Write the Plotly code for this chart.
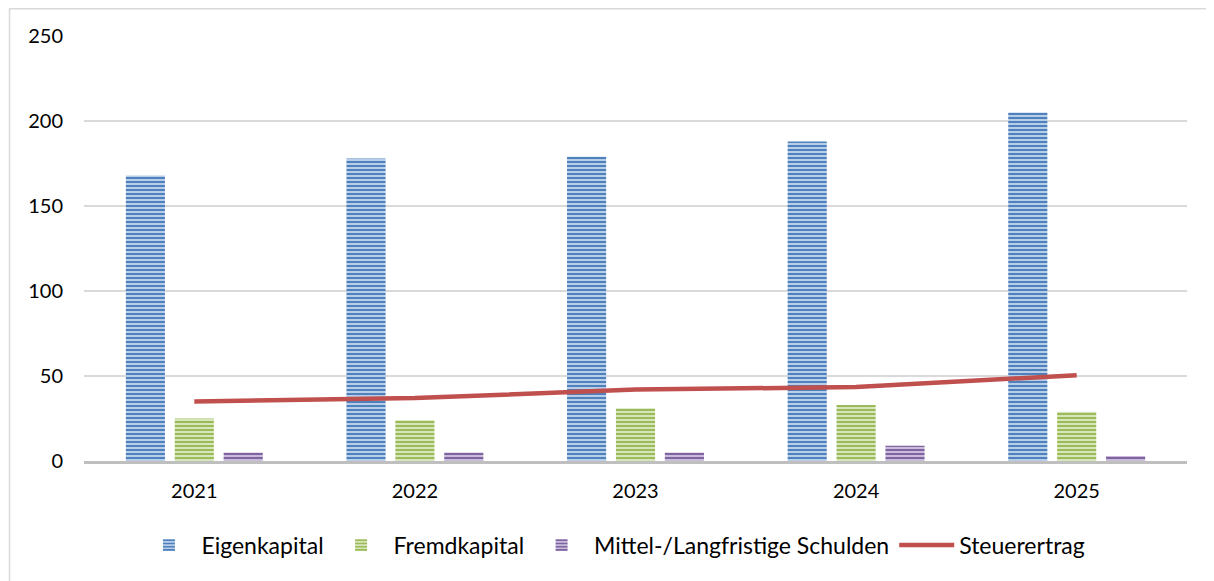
import plotly.graph_objects as go

# ── Data ──────────────────────────────────────────────────────────────────────

YEARS        = ["2021", "2022", "2023", "2024", "2025"]
EIGENKAPITAL = [168, 178, 179, 188, 205]
FREMDKAPITAL = [25, 24, 31, 33, 29]
MITTEL_LANG  = [5, 5, 5, 9, 3]
STEUERERTRAG = [35, 37, 42, 43.5, 50.5]

FONT = "Lato, 'Open Sans', sans-serif"


def striped(fg, bg):
    return dict(
        color=bg,
        pattern=dict(shape="-", fgcolor=fg, bgcolor=bg, size=4,
                     solidity=0.5, fillmode="replace"),
        line=dict(width=0),
    )


fig = go.Figure()

fig.add_trace(go.Bar(name="Eigenkapital", x=YEARS, y=EIGENKAPITAL,
                     marker=striped("#4F81BD", "#B8CDE8")))
fig.add_trace(go.Bar(name="Fremdkapital", x=YEARS, y=FREMDKAPITAL,
                     marker=striped("#9BBB59", "#D6E5BC")))
fig.add_trace(go.Bar(name="Mittel-/Langfristige Schulden", x=YEARS, y=MITTEL_LANG,
                     marker=striped("#8064A2", "#C9BCDB")))
fig.add_trace(go.Scatter(name="Steuerertrag", x=YEARS, y=STEUERERTRAG,
                         mode="lines", line=dict(color="#C0504D", width=4.5)))

# outer chart frame (only top/left edges fall inside the picture)
fig.add_shape(type="rect", xref="paper", yref="paper",
              x0=-0.0675, x1=1.1, y0=-0.5, y1=1.064,
              line=dict(color="#D9D9D9", width=1.5), layer="below")

fig.update_layout(
    width=1214, height=581,
    paper_bgcolor="white", plot_bgcolor="white",
    margin=dict(l=76, r=35, t=28, b=128, autoexpand=False),
    barmode="group", bargap=0.335, bargroupgap=0.2,
    font=dict(family=FONT, size=20, color="#000000"),
    showlegend=True,
    legend=dict(orientation="h", x=0.48, xanchor="center", y=-0.198, yanchor="middle",
                font=dict(size=23), bgcolor="rgba(0,0,0,0)", traceorder="normal",
                itemwidth=55),
)
fig.update_yaxes(range=[0, 250], dtick=50, showgrid=True, gridcolor="#D9D9D9",
                 gridwidth=1.5, zeroline=False, showline=False,
                 ticklabelstandoff=20, tickfont=dict(size=20))
fig.update_xaxes(showline=True, linecolor="#BFBFBF", linewidth=2.5,
                 showgrid=False, ticks="", ticklabelstandoff=10,
                 tickfont=dict(size=20))

fig.write_html("out.html")
